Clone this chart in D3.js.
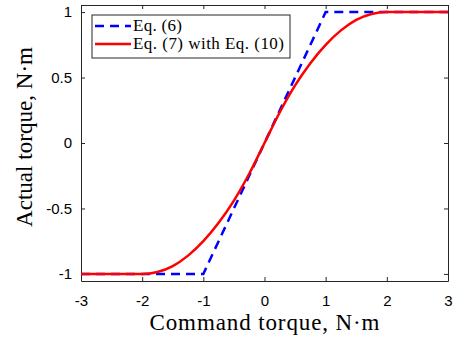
<!DOCTYPE html>
<html>
<head>
<meta charset="utf-8">
<script src="https://cdn.jsdelivr.net/npm/d3@7"></script>
<style>
  body { margin: 0; background: #fff; }
  svg { display: block; }
</style>
</head>
<body>
<script>
// Data
var xTicks = [-3, -2, -1, 0, 1, 2, 3];
var xTickLabels = ["-3", "-2", "-1", "0", "1", "2", "3"];
var yTicks = [-1, -0.5, 0, 0.5, 1];
var yTickLabels = ["-1", "-0.5", "0", "0.5", "1"];

// Eq. (6): hard saturation
var eq6X = [-3, -1, 1, 3];
var eq6Y = [-1, -1, 1, 1];

// Eq. (7) with Eq. (10): smooth saturation
var eq7X = [-3, -2.5, -2, -1.75, -1.5, -1.25, -1, -0.75, -0.5, -0.25, 0,
            0.25, 0.5, 0.75, 1, 1.25, 1.5, 1.75, 2, 2.5, 3];
var eq7Y = [-1, -1, -1, -0.985, -0.94, -0.86, -0.75, -0.61, -0.44, -0.235, 0,
            0.235, 0.44, 0.61, 0.75, 0.86, 0.94, 0.985, 1, 1, 1];

var seriesNames = ["Eq. (6)", "Eq. (7) with Eq. (10)"];

var W = 454, H = 344;
var margin = {top: 5, right: 6, bottom: 63, left: 81};
var width = W - margin.left - margin.right,
    height = H - margin.top - margin.bottom;

var svg = d3.select("body").append("svg")
  .attr("width", W)
  .attr("height", H);

var g = svg.append("g")
  .attr("transform", "translate(" + margin.left + "," + margin.top + ")");

var x = d3.scaleLinear().domain([-3, 3]).range([0, width]);
var y = d3.scaleLinear().domain([-1.054, 1.054]).range([height, 0]);

var axisColor = "#262626";
var tickFont = "'Liberation Sans', Arial, sans-serif";
var serif = "'Liberation Serif', 'Times New Roman', serif";

// Axes (MATLAB style, inward ticks, box on)
var xAxis = g.append("g")
  .attr("transform", "translate(0," + height + ")")
  .call(d3.axisBottom(x).tickValues(xTicks).tickFormat(function(d, i) { return xTickLabels[i]; })
    .tickSizeInner(-4).tickSizeOuter(0).tickPadding(14));
var yAxis = g.append("g")
  .call(d3.axisLeft(y).tickValues(yTicks).tickFormat(function(d, i) { return yTickLabels[i]; })
    .tickSizeInner(-4).tickSizeOuter(0).tickPadding(9));
var xTop = g.append("g")
  .call(d3.axisTop(x).tickValues(xTicks).tickSizeInner(-4).tickSizeOuter(0).tickFormat(""));
var yRight = g.append("g")
  .attr("transform", "translate(" + width + ",0)")
  .call(d3.axisRight(y).tickValues(yTicks).tickSizeInner(-4).tickSizeOuter(0).tickFormat(""));

[xAxis, yAxis, xTop, yRight].forEach(function(a) {
  a.select(".domain").attr("stroke", axisColor).attr("stroke-width", 1);
  a.selectAll(".tick line").attr("stroke", axisColor).attr("stroke-width", 1);
  a.selectAll(".tick text").attr("fill", "#000").style("font-family", tickFont).style("font-size", "15px");
});

// Lines
var line = d3.line()
  .x(function(d) { return x(d[0]); })
  .y(function(d) { return y(d[1]); });

var eq6 = eq6X.map(function(v, i) { return [v, eq6Y[i]]; });
var eq7 = eq7X.map(function(v, i) { return [v, eq7Y[i]]; });

g.append("path")
  .datum(eq6)
  .attr("fill", "none")
  .attr("stroke", "#0000ff")
  .attr("stroke-width", 2.5)
  .attr("stroke-dasharray", "9,6")
  .attr("d", line);

g.append("path")
  .datum(eq7)
  .attr("fill", "none")
  .attr("stroke", "#ff0000")
  .attr("stroke-width", 2.5)
  .attr("d", line.curve(d3.curveMonotoneX));

// Axis labels
svg.append("text")
  .attr("x", margin.left + width / 2)
  .attr("y", 330)
  .attr("text-anchor", "middle")
  .attr("textLength", 230)
  .attr("lengthAdjust", "spacing")
  .style("font-family", serif)
  .style("font-size", "23px")
  .text("Command torque, N\u00b7m");

svg.append("text")
  .attr("transform", "translate(32," + 137 + ") rotate(-90)")
  .attr("text-anchor", "middle")
  .attr("textLength", 180)
  .attr("lengthAdjust", "spacing")
  .style("font-family", serif)
  .style("font-size", "23px")
  .text("Actual torque, N\u00b7m");

// Legend
var legend = svg.append("g").attr("transform", "translate(92,15)");
legend.append("rect")
  .attr("width", 198).attr("height", 43)
  .attr("fill", "#fff").attr("stroke", axisColor).attr("stroke-width", 1);

var legendStyles = [
  {color: "#0000ff", dash: "9,6", len: 49},
  {color: "#ff0000", dash: null, len: 151}
];

seriesNames.forEach(function(name, i) {
  var cy = 11 + i * 18;
  legend.append("line")
    .attr("x1", 3).attr("x2", 39).attr("y1", cy).attr("y2", cy)
    .attr("stroke", legendStyles[i].color)
    .attr("stroke-width", 2.5)
    .attr("stroke-dasharray", legendStyles[i].dash);
  legend.append("text")
    .attr("x", 41).attr("y", cy + 5)
    .attr("textLength", legendStyles[i].len)
    .attr("lengthAdjust", "spacing")
    .style("font-family", serif)
    .style("font-size", "17px")
    .text(name);
});
</script>
</body>
</html>
